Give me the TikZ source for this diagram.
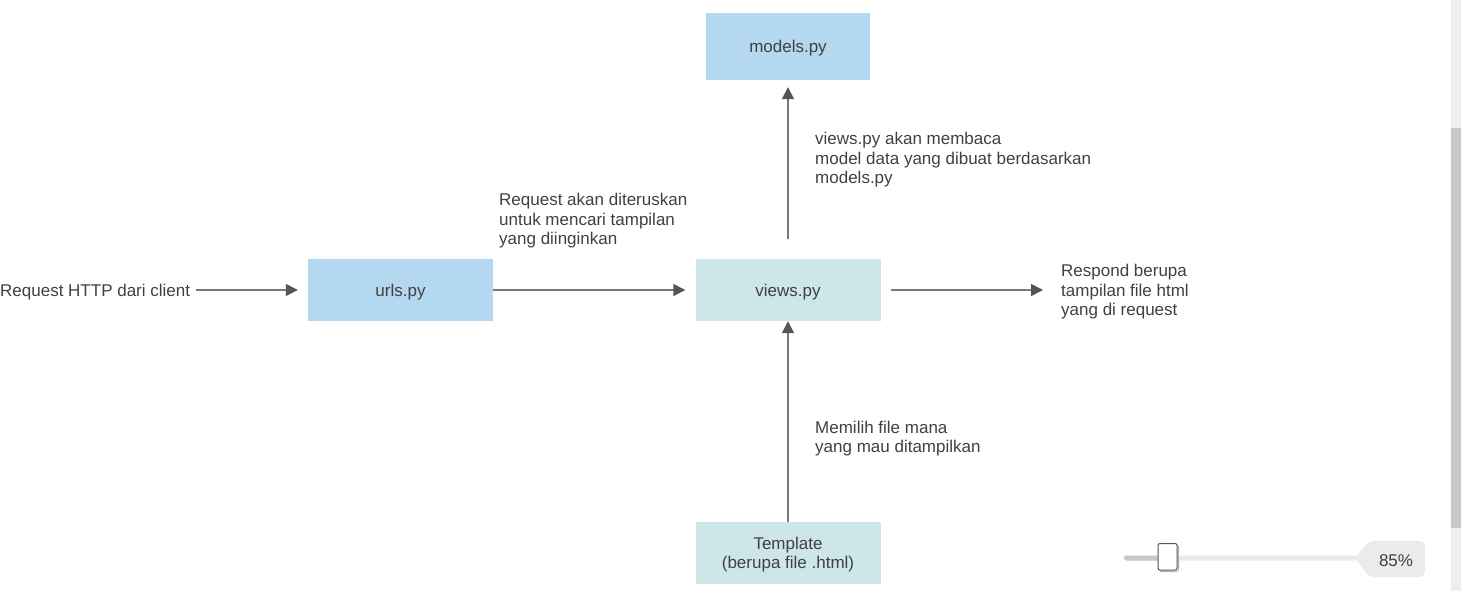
\documentclass[tikz,border=0pt]{standalone}
\usepackage{fontspec}
\setmainfont{Liberation Sans}
\usetikzlibrary{arrows.meta}
\definecolor{boxblue}{RGB}{180,216,239}
\definecolor{boxteal}{RGB}{205,230,232}
\definecolor{txt}{RGB}{64,64,64}
\definecolor{linec}{RGB}{120,120,120}
\definecolor{headc}{RGB}{85,85,85}
\definecolor{sbtrack}{RGB}{238,238,238}
\definecolor{sbthumb}{RGB}{200,200,200}
\definecolor{sltrack}{RGB}{235,235,235}
\begin{document}
\begin{tikzpicture}[x=1pt,y=-1pt,
  every node/.style={font=\fontsize{17}{19.4}\selectfont, text=txt},
  blk/.style={draw=none, minimum width=185pt, minimum height=62pt, inner sep=0pt, text depth=0pt},
  lbl/.style={align=left, inner sep=0pt, anchor=west},
  conn/.style={draw=linec, line width=1.5pt, -{Triangle[length=12pt,width=12pt,fill=headc,color=headc]}}
]
\useasboundingbox (0,0) rectangle (1461,591);
% boxes
\node[blk, fill=boxblue] (urls) at (400.5,290) {urls.py};
\node[blk, fill=boxteal] (views) at (788,290) {views.py};
\node[blk, fill=boxblue, minimum width=164pt, minimum height=67pt] (models) at (788,46.5) {models.py};
\node[blk, fill=boxteal, align=center] (tmpl) at (788,553) {Template\\(berupa file .html)};
% labels
\node[lbl] (req) at (0,292) {Request HTTP dari client};
\node[lbl] (lreq) at (499,221) {Request akan diteruskan\\untuk mencari tampilan\\yang diinginkan};
\node[lbl] (lmod) at (815,160) {views.py akan membaca\\model data yang dibuat berdasarkan\\models.py};
\node[lbl] (resp) at (1061,292) {Respond berupa\\tampilan file html\\yang di request};
\node[lbl] (lpil) at (815,438.5) {Memilih file mana\\yang mau ditampilkan};
% connectors
\draw[conn, shorten <=6pt, shorten >=10pt] (req.east |- urls.west) -- (urls.west);
\draw[conn, shorten >=10pt] (urls.east) -- (views.west);
\draw[conn, shorten <=10pt, shorten >=18pt] (views.east) -- (resp.west |- views.east);
\draw[conn, shorten <=20pt, shorten >=7pt] (views.north) -- (models.south);
\draw[conn] (tmpl.north) -- (views.south);
% scrollbar
\fill[sbtrack] (1451,0) rectangle (1461,591);
\fill[sbthumb] (1451,128) rectangle (1461,528);
% zoom slider
\fill[sltrack, rounded corners=2.5pt] (1124,555.5) rectangle (1362,560.5);
\fill[sbthumb, rounded corners=2.5pt] (1124,555.5) rectangle (1165,560.5);
\fill[sltrack, rounded corners=5pt] (1355,558) -- (1369,541) -- (1425,541) -- (1425,577) -- (1369,577) -- cycle;
\node (zoomlbl) at (1396,561) {85\%};
\draw[black!30, line width=1pt, rounded corners=2pt] (1159.5,545) rectangle (1178.5,571.5);
\draw[headc, fill=white, line width=1pt, rounded corners=2pt] (1158,543.5) rectangle (1177,570);
\end{tikzpicture}
\end{document}
